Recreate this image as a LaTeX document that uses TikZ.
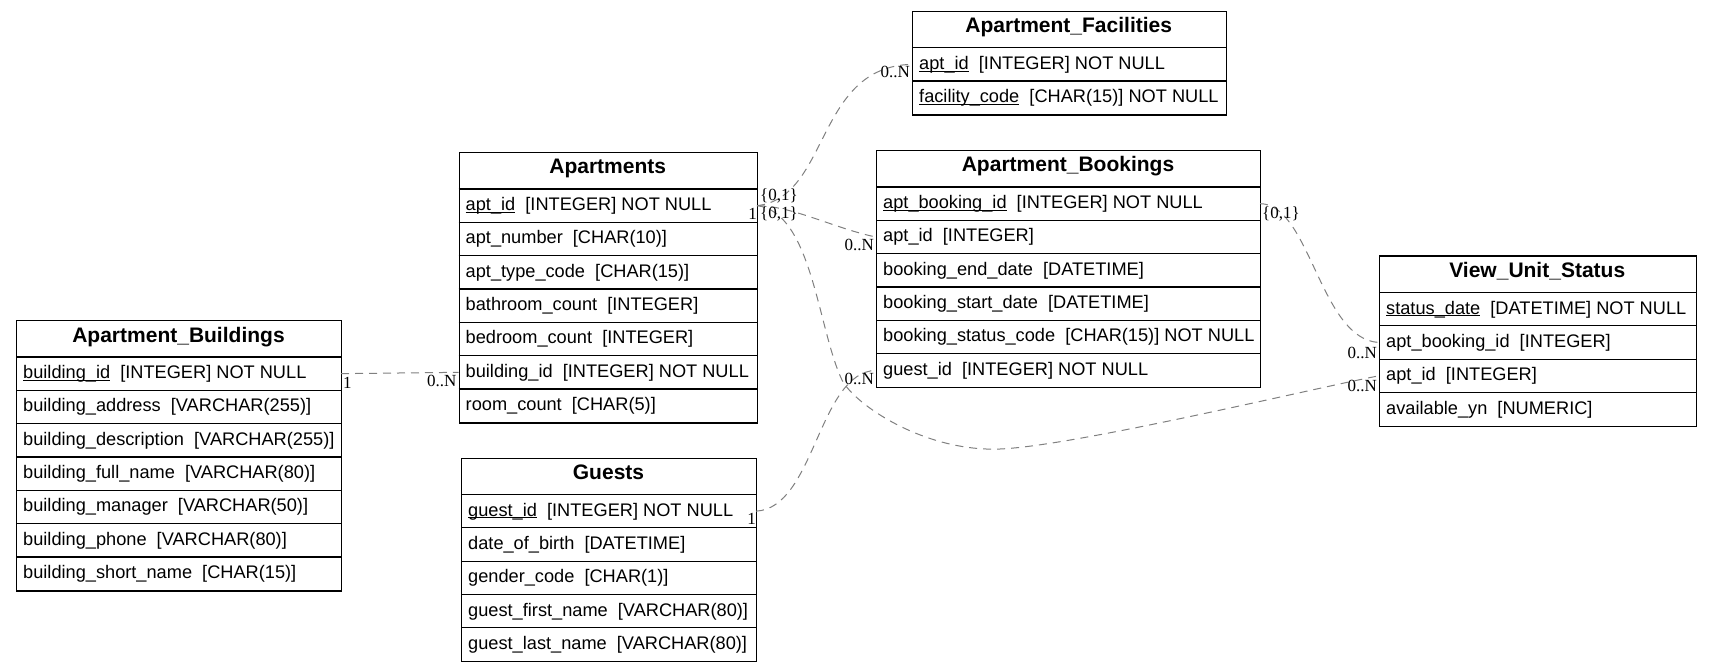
\documentclass[tikz,border=0pt]{standalone}
\usepackage{fontspec}
\setmainfont{Liberation Sans}
\newfontfamily\cardserif{Liberation Serif}
\definecolor{relgray}{RGB}{128,128,128}
\newcommand\rowfont{\fontsize{18.2}{20}\selectfont}
\newcommand\titlefont{\fontsize{21}{24}\selectfont\bfseries}
\newcommand\cardfont{\cardserif\fontsize{17}{18}\selectfont}
\newcommand\keyu[1]{\setbox0\hbox{#1}\rlap{\rule[-2.2pt]{\wd0}{0.9pt}}\box0}
\tikzset{
  tblbox/.style={draw=black, line width=1.2pt, inner sep=0pt, anchor=north west},
  tbltitle/.style={font=\titlefont, inner sep=0pt, anchor=base},
  tblrow/.style={font=\rowfont, inner sep=0pt, anchor=base west},
  tblsep/.style={draw=black, line width=1.2pt},
  rel/.style={draw=relgray, dash pattern=on 8pt off 6pt, line width=1pt},
  card/.style={font=\cardfont, inner sep=0pt, text=black}
}
% #1 id, #2 x0, #3 y0, #4 x1, #5 title, #6 number of rows, #7 rows
\newcommand\erdtable[7]{%
  \pgfmathsetmacro\tblw{#4-#2}%
  \pgfmathsetmacro\tblh{37+#6*33.33}%
  \node[tblbox, minimum width=\tblw pt, minimum height=\tblh pt] (#1) at (#2,#3) {};
  \node[tbltitle] (#1-title) at ({(#2+#4)/2},{#3+22}) {#5};
  \foreach \txt [count=\i] in {#7} {
    \draw[tblsep] (#2,{#3+37+(\i-1)*33.33}) -- (#4,{#3+37+(\i-1)*33.33});
    \node[tblrow] (#1-\i) at ({#2+7},{#3+37+(\i-1)*33.33+21.6}) {\txt};
    \coordinate (#1-\i-w) at (#2,{#3+37+(\i-0.5)*33.33});
    \coordinate (#1-\i-e) at (#4,{#3+37+(\i-0.5)*33.33});
  }
}
\begin{document}
\begin{tikzpicture}[x=1pt,y=-1pt]
\useasboundingbox (0,0) rectangle (1711,671);

\erdtable{ab}{16}{320}{341}{Apartment\_Buildings}{7}{
  {\keyu{building\_id}~~[INTEGER] NOT NULL},
  {building\_address~~[VARCHAR(255)]},
  {building\_description~~[VARCHAR(255)]},
  {building\_full\_name~~[VARCHAR(80)]},
  {building\_manager~~[VARCHAR(50)]},
  {building\_phone~~[VARCHAR(80)]},
  {building\_short\_name~~[CHAR(15)]}}

\erdtable{ap}{458.5}{152}{757}{Apartments}{7}{
  {\keyu{apt\_id}~~[INTEGER] NOT NULL},
  {apt\_number~~[CHAR(10)]},
  {apt\_type\_code~~[CHAR(15)]},
  {bathroom\_count~~[INTEGER]},
  {bedroom\_count~~[INTEGER]},
  {building\_id~~[INTEGER] NOT NULL},
  {room\_count~~[CHAR(5)]}}

\erdtable{af}{912}{10.7}{1225.5}{Apartment\_Facilities}{2}{
  {\keyu{apt\_id}~~[INTEGER] NOT NULL},
  {\keyu{facility\_code}~~[CHAR(15)] NOT NULL}}

\erdtable{bk}{876}{150}{1260}{Apartment\_Bookings}{6}{
  {\keyu{apt\_booking\_id}~~[INTEGER] NOT NULL},
  {apt\_id~~[INTEGER]},
  {booking\_end\_date~~[DATETIME]},
  {booking\_start\_date~~[DATETIME]},
  {booking\_status\_code~~[CHAR(15)] NOT NULL},
  {guest\_id~~[INTEGER] NOT NULL}}

\erdtable{vus}{1379}{255.5}{1695.5}{View\_Unit\_Status}{4}{
  {\keyu{status\_date}~~[DATETIME] NOT NULL},
  {apt\_booking\_id~~[INTEGER]},
  {apt\_id~~[INTEGER]},
  {available\_yn~~[NUMERIC]}}

\erdtable{gu}{461}{457.5}{756}{Guests}{5}{
  {\keyu{guest\_id}~~[INTEGER] NOT NULL},
  {date\_of\_birth~~[DATETIME]},
  {gender\_code~~[CHAR(1)]},
  {guest\_first\_name~~[VARCHAR(80)]},
  {guest\_last\_name~~[VARCHAR(80)]}}

% connectors
\draw[rel] (ab-1-e) -- (ap-6-w);
\draw[rel] (ap-1-e) .. controls +(73,-8) and +(-97,2) .. (af-1-w);
\draw[rel] (ap-1-e) .. controls +(35,0) and +(-40,-8) .. (bk-2-w);
\draw[rel] (ap-1-e) .. controls (812,212) and (818,330) .. (842,380)
   .. controls (855,405) and (925,452) .. (1000,449)
   .. controls (1075,446) and (1319,387) .. (vus-3-w);
\draw[rel] (gu-1-e) .. controls +(59,-3) and +(-58,2) .. (bk-6-w);
\draw[rel] (bk-1-e) .. controls +(50,0) and +(-59,-3) .. (vus-2-w);

% cardinality labels
\node[card, anchor=north west] (c1a) at ([shift={(2,3)}]ab-1-e) {1};
\node[card, anchor=north east] (c1b) at ([shift={(-2,3)}]ap-6-w) {0..N};
\node[card, anchor=south west] (c2a) at ([shift={(3,-2)}]ap-1-e) {\{0,1\}};
\node[card, anchor=north east] (c2b) at ([shift={(-2,2)}]af-1-w) {0..N};
\node[card, anchor=north west] (c3a) at ([shift={(3,1)}]ap-1-e) {\{0,1\}};
\node[card, anchor=north east] (c3b) at ([shift={(-2,2)}]bk-2-w) {0..N};
\node[card, anchor=north east] (c4a) at ([shift={(0,2)}]ap-1-e) {1};
\node[card, anchor=north east] (c4b) at ([shift={(-2,4)}]vus-3-w) {0..N};
\node[card, anchor=north east] (c5a) at ([shift={(0,2)}]gu-1-e) {1};
\node[card, anchor=north east] (c5b) at ([shift={(-2,3)}]bk-6-w) {0..N};
\node[card, anchor=north west] (c6a) at ([shift={(2,3)}]bk-1-e) {\{0,1\}};
\node[card, anchor=north east] (c6b) at ([shift={(-2,4)}]vus-2-w) {0..N};
\end{tikzpicture}
\end{document}
